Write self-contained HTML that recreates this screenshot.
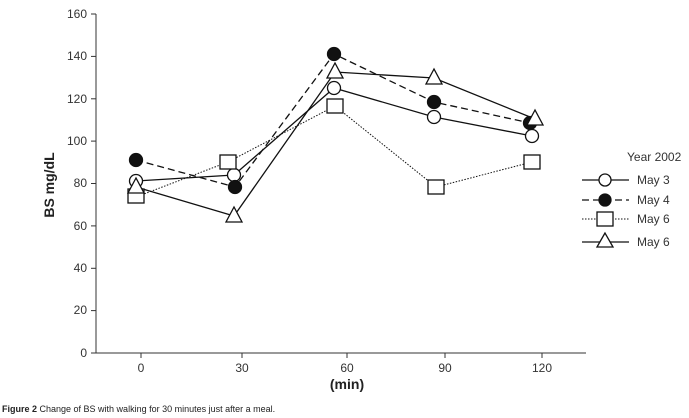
<!DOCTYPE html>
<html><head><style>body{margin:0;background:#fff}svg{display:block}</style></head><body>
<svg width="689" height="418" xmlns="http://www.w3.org/2000/svg" font-family="Liberation Sans, sans-serif">
<g stroke="#333" stroke-width="1" fill="none">
<line x1="96" y1="14" x2="96" y2="353"/>
<line x1="96" y1="353" x2="586" y2="353"/>
<line x1="91" y1="14" x2="96" y2="14"/><line x1="91" y1="56.4" x2="96" y2="56.4"/><line x1="91" y1="98.8" x2="96" y2="98.8"/><line x1="91" y1="141.1" x2="96" y2="141.1"/><line x1="91" y1="183.5" x2="96" y2="183.5"/><line x1="91" y1="225.9" x2="96" y2="225.9"/><line x1="91" y1="268.3" x2="96" y2="268.3"/><line x1="91" y1="310.6" x2="96" y2="310.6"/><line x1="91" y1="353" x2="96" y2="353"/>
<line x1="141" y1="353" x2="141" y2="358"/><line x1="242" y1="353" x2="242" y2="358"/><line x1="347" y1="353" x2="347" y2="358"/><line x1="445" y1="353" x2="445" y2="358"/><line x1="542" y1="353" x2="542" y2="358"/>
</g>
<g font-size="12" fill="#333" text-anchor="end">
<text x="87" y="18">160</text><text x="87" y="60">140</text><text x="87" y="103">120</text><text x="87" y="145">100</text><text x="87" y="187">80</text><text x="87" y="230">60</text><text x="87" y="272">40</text><text x="87" y="314">20</text><text x="87" y="357">0</text>
</g>
<g font-size="12" fill="#333" text-anchor="middle">
<text x="141" y="372">0</text><text x="242" y="372">30</text><text x="347" y="372">60</text><text x="445" y="372">90</text><text x="542" y="372">120</text>
</g>
<text x="347" y="389" font-size="14" font-weight="bold" text-anchor="middle" fill="#222">(min)</text>
<text transform="translate(54,185) rotate(-90)" font-size="14" font-weight="bold" text-anchor="middle" fill="#222">BS mg/dL</text>
<g stroke="#111" stroke-width="1.3" fill="none">
<polyline points="136,181 234,175 334,88 434,117 532,136"/>
<polyline points="136,160 235,187 334,54 434,102 530,123" stroke-dasharray="7,4"/>
<polyline points="136,197 228,162 335,106 436,187 532,162" stroke-dasharray="1.5,1.5" stroke-width="1"/>
<polyline points="136,187 234,216 335,72 434,78 535,119"/>
</g>
<g stroke="#111" stroke-width="1.3" fill="#fff">
<circle cx="136" cy="181" r="6.5"/><circle cx="234" cy="175" r="6.5"/><circle cx="334" cy="88" r="6.5"/><circle cx="434" cy="117" r="6.5"/><circle cx="532" cy="136" r="6.5"/>
<g fill="#111"><circle cx="136" cy="160" r="6.5"/><circle cx="235" cy="187" r="6.5"/><circle cx="334" cy="54" r="6.5"/><circle cx="434" cy="102" r="6.5"/><circle cx="530" cy="123" r="6.5"/></g>
<rect x="128" y="189" width="16" height="14"/><rect x="220" y="155" width="16" height="14"/><rect x="327" y="99" width="16" height="14"/><rect x="428" y="180" width="16" height="14"/><rect x="524" y="155" width="16" height="14"/>
<polygon points="136,178 128,193 144,193"/><polygon points="234,207 226,222 242,222"/><polygon points="335,63 327,78 343,78"/><polygon points="434,69 426,84 442,84"/><polygon points="535,110 527,125 543,125"/>
</g>
<g stroke="#111" stroke-width="1.3" fill="#fff">
<line x1="582" y1="180" x2="629" y2="180"/><circle cx="605" cy="180" r="6"/>
<line x1="582" y1="200" x2="629" y2="200" stroke-dasharray="7,4"/><circle cx="605" cy="200" r="6" fill="#111"/>
<line x1="582" y1="219" x2="629" y2="219" stroke-dasharray="1.5,1.5" stroke-width="1"/><rect x="597" y="212" width="16" height="14"/>
<line x1="582" y1="242" x2="629" y2="242"/><polygon points="605,233 597,247 613,247"/>
</g>
<g font-size="12" fill="#333">
<text x="627" y="161">Year 2002</text>
<text x="637" y="184">May 3</text><text x="637" y="204">May 4</text><text x="637" y="223">May 6</text><text x="637" y="246">May 6</text>
</g>
<text x="2" y="412" font-size="9" fill="#222"><tspan font-weight="bold">Figure 2</tspan> Change of BS with walking for 30 minutes just after a meal.</text>
</svg>
</body></html>
